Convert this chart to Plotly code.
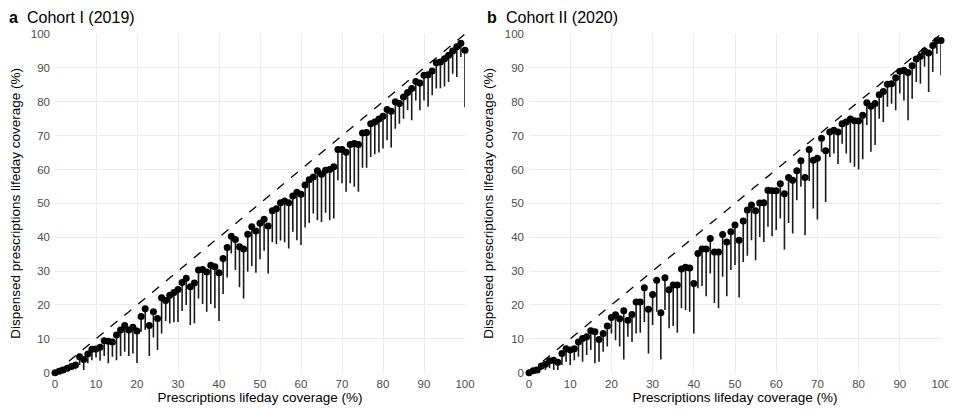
import plotly.graph_objects as go

# ---------------- data ----------------
coverage = list(range(0, 101))

cohort1_dispensed = [
    0, 0.4, 0.8, 1.3, 1.8, 2.3, 4.7, 3.9, 5.5, 6.9,
    7.0, 7.5, 9.4, 9.3, 9.1, 11.1, 12.6, 13.9, 12.6, 13.4,
    12.3, 16.6, 18.9, 13.9, 18.0, 16.0, 22.1, 21.3, 22.9, 23.7,
    24.6, 26.6, 27.9, 25.4, 26.5, 30.3, 30.5, 29.7, 31.7, 31.3,
    29.5, 33.7, 37.0, 40.3, 39.3, 37.2, 36.5, 40.9, 43.1, 41.8,
    44.1, 45.3, 43.3, 47.8, 48.4, 50.2, 50.7, 50.2, 52.2, 53.3,
    52.7, 55.4, 57.0, 57.8, 59.6, 58.6, 59.8, 60.0, 60.8, 65.9,
    65.9, 65.1, 67.4, 67.7, 67.4, 70.8, 70.9, 73.5, 74.0, 74.9,
    75.7, 77.7, 77.2, 80.0, 79.5, 81.4, 82.7, 83.9, 86.0, 85.5,
    87.8, 88.0, 89.1, 91.5, 91.7, 92.7, 93.7, 95.0, 96.2, 97.3,
    95.2,
]
cohort1_lower = [
    0, 0.2, 0.4, 0.6, 1.0, 1.0, 2.3, 0.8, 2.8, 3.7,
    4.5, 3.5, 4.9, 2.8, 4.7, 3.7, 4.9, 6.2, 4.9, 5.7,
    2.9, 12.1, 12.6, 4.9, 10.4, 6.7, 11.6, 15.3, 14.5, 14.9,
    15.0, 18.2, 20.0, 14.1, 14.6, 21.9, 20.3, 18.0, 20.3, 19.0,
    15.3, 23.2, 28.1, 35.2, 30.3, 25.2, 21.9, 29.8, 31.5, 29.5,
    33.5, 36.0, 29.3, 38.5, 38.0, 39.0, 38.5, 36.7, 41.6, 39.1,
    37.7, 42.9, 44.2, 47.0, 45.0, 44.5, 47.2, 45.0, 45.5, 56.8,
    55.9, 53.4, 55.9, 54.9, 53.4, 60.5, 60.5, 63.7, 64.5, 65.0,
    66.2, 68.6, 66.5, 72.0, 73.5, 75.0, 77.5, 74.5, 80.4, 77.5,
    80.4, 78.5, 81.9, 83.9, 84.0, 84.5, 85.8, 88.3, 87.3, 93.2,
    78.4,
]

cohort2_dispensed = [
    0, 0.6, 0.8, 2.0, 2.5, 3.5, 3.7, 3.1, 5.7, 7.1,
    6.7, 7.1, 9.1, 10.1, 10.6, 12.4, 12.1, 9.8, 11.6, 13.8,
    16.3, 17.1, 15.9, 18.3, 15.5, 17.2, 20.9, 20.9, 25.1, 18.7,
    23.1, 27.3, 17.7, 28.0, 24.5, 25.9, 25.9, 30.6, 31.1, 30.9,
    26.3, 35.2, 36.5, 36.5, 39.6, 35.6, 35.6, 40.8, 38.6, 41.6,
    43.6, 39.1, 44.8, 48.0, 49.5, 47.8, 50.1, 50.2, 53.9, 53.7,
    53.7, 55.8, 52.8, 57.6, 56.8, 59.6, 62.6, 57.6, 65.9, 62.7,
    63.3, 69.2, 65.5, 71.1, 71.6, 71.1, 73.5, 74.0, 74.9, 74.4,
    74.3, 76.0, 79.7, 78.7, 79.5, 82.1, 83.0, 85.2, 85.3, 87.1,
    89.0, 89.3, 88.6, 90.6, 92.6, 93.4, 95.0, 94.4, 96.6, 98.1,
    98.1,
]
cohort2_lower = [
    0, 0.3, 0.5, 0.8, 0.8, 1.3, 0.8, 0.8, 2.3, 3.2,
    2.3, 3.7, 4.7, 3.2, 5.2, 6.7, 2.8, 3.2, 6.2, 7.7,
    11.6, 9.6, 7.7, 3.9, 10.6, 9.1, 11.6, 11.8, 15.0, 5.7,
    14.1, 18.0, 3.9, 18.5, 13.1, 13.8, 11.8, 19.0, 18.5, 18.0,
    11.6, 24.9, 25.6, 22.6, 29.3, 20.6, 19.0, 28.3, 22.6, 30.3,
    31.8, 22.2, 32.7, 34.5, 39.1, 33.2, 40.1, 38.6, 43.1, 40.3,
    42.1, 45.5, 36.4, 44.2, 41.1, 50.9, 54.9, 40.6, 56.6, 48.5,
    45.2, 65.2, 50.4, 63.7, 64.7, 61.6, 67.6, 64.7, 62.0, 60.8,
    60.0, 63.0, 73.1, 65.2, 67.2, 75.0, 74.0, 78.5, 79.4, 77.5,
    82.4, 80.4, 74.5, 80.9, 85.8, 85.3, 90.3, 82.9, 88.8, 94.2,
    87.8,
]

tick_vals = list(range(0, 101, 10))
panel_titles = ["Cohort I (2019)", "Cohort II (2020)"]
panel_tags = ["a", "b"]
x_title = "Prescriptions lifeday coverage (%)"
y_title = "Dispensed prescriptions lifeday coverage (%)"

FONT = "Liberation Sans, Arial, sans-serif"
OFF = 8                      # page body margin of the browser
W, H = 956 - OFF, 413 - OFF  # figure size so that it fits the window


def px_x(p):
    return (p - OFF) / W


def px_y(p):
    return 1 - (p - OFF) / H


fig = go.Figure()

panels = [
    (cohort1_dispensed, cohort1_lower, "x", "y"),
    (cohort2_dispensed, cohort2_lower, "x2", "y2"),
]

for disp, low, xa, ya in panels:
    # reference line y = x
    fig.add_trace(go.Scatter(
        x=[coverage[0], coverage[-1]], y=[coverage[0], coverage[-1]],
        mode="lines", line=dict(color="black", width=1.3, dash="dash"),
        xaxis=xa, yaxis=ya, showlegend=False, hoverinfo="skip",
    ))
    # vertical segments
    sx, sy = [], []
    for xv, lo, hi in zip(coverage, low, disp):
        sx += [xv, xv, None]
        sy += [lo, hi, None]
    fig.add_trace(go.Scatter(
        x=sx, y=sy, mode="lines",
        line=dict(color="#1a1a1a", width=1.6),
        xaxis=xa, yaxis=ya, showlegend=False, hoverinfo="skip",
        cliponaxis=False,
    ))
    # points
    fig.add_trace(go.Scatter(
        x=coverage, y=disp, mode="markers",
        marker=dict(color="black", size=7),
        xaxis=xa, yaxis=ya, showlegend=False, cliponaxis=False,
    ))

x1_dom = [px_x(55), px_x(465)]
x2_dom = [px_x(529), px_x(941)]
y_dom = [px_y(372.7), px_y(34)]

axis_common = dict(
    range=[0, 100], tickvals=tick_vals, showgrid=True, gridcolor="#EBEBEB",
    gridwidth=1.1, zeroline=False, showline=False, ticks="",
    automargin=False,
    tickfont=dict(family=FONT, size=11.5, color="#4D4D4D"),
    title_font=dict(family=FONT, size=13.5, color="black"),
)

fig.update_layout(
    width=W, height=H,
    margin=dict(l=0, r=0, t=0, b=0),
    paper_bgcolor="white", plot_bgcolor="white",
    font=dict(family=FONT),
    xaxis=dict(domain=x1_dom, anchor="y", ticklabelstandoff=3,
               title=dict(text=x_title, standoff=2), **axis_common),
    yaxis=dict(domain=y_dom, anchor="x", ticklabelstandoff=4,
               title=dict(text=y_title, standoff=8), **axis_common),
    xaxis2=dict(domain=x2_dom, anchor="y2", ticklabelstandoff=3,
                title=dict(text=x_title, standoff=2), **axis_common),
    yaxis2=dict(domain=y_dom, anchor="x2", ticklabelstandoff=4,
                title=dict(text=y_title, standoff=8), **axis_common),
)

annotations = []
for tag, title, xpix_tag, xpix_title in [
    (panel_tags[0], panel_titles[0], 8, 26),
    (panel_tags[1], panel_titles[1], 486, 505),
]:
    annotations.append(dict(
        text="<b>%s</b>" % tag, x=px_x(xpix_tag), y=1, xref="paper", yref="paper",
        xanchor="left", yanchor="top", showarrow=False, borderpad=0,
        font=dict(family=FONT, size=16, color="black"),
    ))
    annotations.append(dict(
        text=title, x=px_x(xpix_title), y=1, xref="paper", yref="paper",
        xanchor="left", yanchor="top", showarrow=False, borderpad=0,
        font=dict(family=FONT, size=16, color="black"),
    ))
fig.update_layout(annotations=annotations)

fig.write_html("out.html")
